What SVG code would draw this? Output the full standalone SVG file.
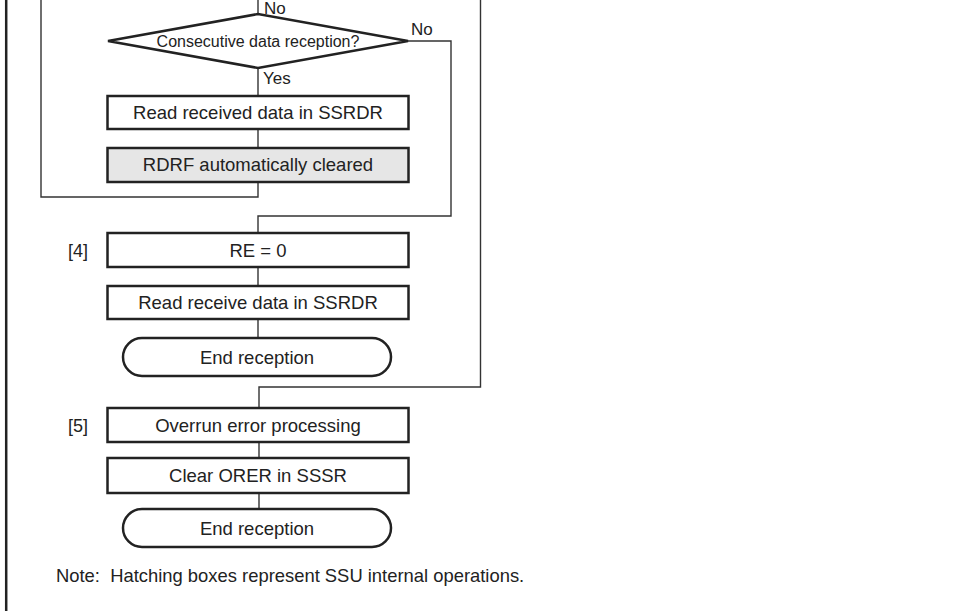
<svg xmlns="http://www.w3.org/2000/svg" width="964" height="611" viewBox="0 0 964 611">
<defs>
<style>
.box{fill:#fff;stroke:#222;stroke-width:2.5}
.gray{fill:#e6e6e6}
.ln{fill:none;stroke:#333;stroke-width:1.4}
.t{font-family:"Liberation Sans",Arial,sans-serif;font-size:18.5px;fill:#222;text-anchor:middle}
.lbl{font-family:"Liberation Sans",Arial,sans-serif;font-size:17px;fill:#222}
.side{font-family:"Liberation Sans",Arial,sans-serif;font-size:18px;fill:#222}
</style>
</defs>
<rect x="0" y="0" width="964" height="611" fill="#fff"/>
<line x1="6.2" y1="0" x2="6.2" y2="611" stroke="#222" stroke-width="2.5"/>
<g id="connectors">
<path class="ln" d="M258,0 V14"/>
<path class="ln" d="M258,68 V96"/>
<path class="ln" d="M258,129 V148"/>
<path class="ln" d="M258,182 V197 H41 V0"/>
<path class="ln" d="M408,41 H451 V216 H258 V233"/>
<path class="ln" d="M258,267 V286"/>
<path class="ln" d="M258,319 V338"/>
<path class="ln" d="M480.5,0 V387 H259 V408"/>
<path class="ln" d="M259,442 V458"/>
<path class="ln" d="M259,493 V509"/>
<text class="lbl" x="264" y="14">No</text>
<text class="lbl" x="411" y="35">No</text>
<text class="lbl" x="263" y="84">Yes</text>
</g>
<g id="decision">
<polygon class="box" points="108,41 258,14 408,41 258,68"/>
<text class="t" x="258" y="47" style="font-size:16px">Consecutive data reception?</text>
</g>
<g id="read1">
<rect class="box" x="107.5" y="96" width="301" height="33"/>
<text class="t" x="258" y="119">Read received data in SSRDR</text>
</g>
<g id="rdrf">
<rect class="box gray" x="107.5" y="148" width="301" height="34"/>
<text class="t" x="258" y="171">RDRF automatically cleared</text>
</g>
<g id="re0">
<text class="side" x="68" y="256.5">[4]</text>
<rect class="box" x="107.5" y="233" width="301" height="34"/>
<text class="t" x="258" y="256.5">RE = 0</text>
</g>
<g id="read2">
<rect class="box" x="107.5" y="286" width="301" height="33"/>
<text class="t" x="258" y="309">Read receive data in SSRDR</text>
</g>
<g id="end1">
<rect class="box" x="123" y="338" width="268" height="38" rx="19" ry="19"/>
<text class="t" x="257" y="363.5">End reception</text>
</g>
<g id="overrun">
<text class="side" x="68" y="431.5">[5]</text>
<rect class="box" x="107.5" y="408" width="301" height="34"/>
<text class="t" x="258" y="431.5">Overrun error processing</text>
</g>
<g id="clearorer">
<rect class="box" x="107.5" y="458" width="301" height="35"/>
<text class="t" x="258" y="482">Clear ORER in SSSR</text>
</g>
<g id="end2">
<rect class="box" x="123" y="509" width="268" height="38" rx="19" ry="19"/>
<text class="t" x="257" y="534.5">End reception</text>
</g>
<text class="side" x="56" y="581.5" style="font-size:18.4px" xml:space="preserve">Note:  Hatching boxes represent SSU internal operations.</text>
</svg>
